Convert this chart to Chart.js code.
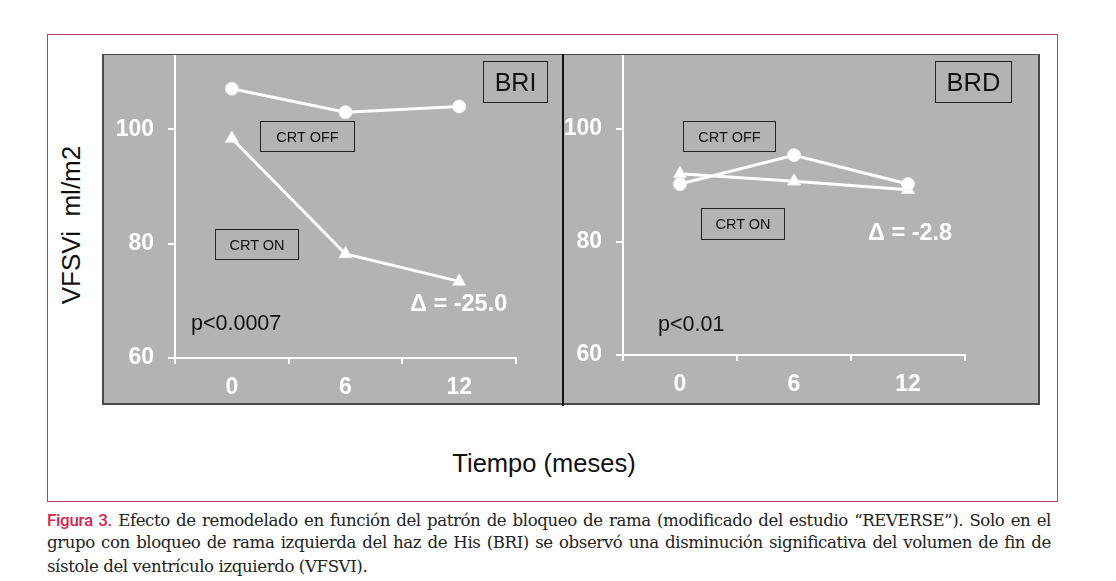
<!DOCTYPE html>
<html>
<head>
<meta charset="utf-8">
<script src="https://cdn.jsdelivr.net/npm/chart.js"></script>
<style>
  body { margin: 0; background: #fff; }
  #page { position: relative; width: 1116px; height: 581px; overflow: hidden; font-family: "Liberation Sans", Arial, sans-serif; }
  .abs { position: absolute; }
  #frame { left: 47px; top: 34px; width: 1009px; height: 466px; border: 1.5px solid #b8406a; }
  #panel { left: 102px; top: 54px; width: 934px; height: 348px; background: #b3b3b3; border: 1px solid #4a4a4a; border-left-width: 2px; border-bottom-width: 2px; border-right-width: 2px; }
  #divider { left: 562px; top: 54px; width: 2px; height: 352px; background: #111; }
  .box { position: absolute; border: 1.5px solid #222; display: flex; align-items: center; justify-content: center; color: #111; box-sizing: border-box; }
  .txt { position: absolute; white-space: nowrap; }
  .white { color: #fff; font-weight: bold; }
  .cap { position: absolute; left: 47px; width: 1004px; font-family: "DejaVu Serif", serif; font-size: 16.6px; letter-spacing: -0.4px; color: #222; white-space: nowrap; line-height: 22px; }
  .just { text-align: justify; text-align-last: justify; }
  .fig { font-family: Roboto, "Noto Sans", sans-serif; font-weight: 500; font-size: 17px; letter-spacing: -0.3px; color: #d2284e; }
</style>
</head>
<body>
<div id="page">
  <div id="frame" class="abs"></div>
  <div id="panel" class="abs"></div>
  <canvas id="chartBri" class="abs" style="left:103px; top:55px;" width="460" height="350"></canvas>
  <canvas id="chartBrd" class="abs" style="left:564px; top:55px;" width="474" height="350"></canvas>
  <div id="divider" class="abs"></div>

  <div class="box" style="left:483px; top:61px; width:65px; height:42px; font-size:25px;">BRI</div>
  <div class="box" style="left:935px; top:61px; width:77px; height:42px; font-size:25.5px;">BRD</div>
  <div class="box" style="left:260px; top:121px; width:95px; height:31px; font-size:14.5px;">CRT OFF</div>
  <div class="box" style="left:215px; top:229px; width:84px; height:31px; font-size:14.5px;">CRT ON</div>
  <div class="box" style="left:683px; top:121px; width:93px; height:31px; font-size:14.5px;">CRT OFF</div>
  <div class="box" style="left:701px; top:208px; width:84px; height:32px; font-size:14.5px;">CRT ON</div>

  <div class="txt" style="left:191px; top:310px; line-height:26px; font-size:21.5px; color:#111;">p&lt;0.0007</div>
  <div class="txt" style="left:658px; top:311px; line-height:26px; font-size:21.5px; color:#111;">p&lt;0.01</div>
  <div class="txt white" style="left:410px; top:290px; line-height:26px; font-size:23.5px;">&Delta; = -25.0</div>
  <div class="txt white" style="left:868px; top:219px; line-height:26px; font-size:23.5px;">&Delta; = -2.8</div>

  <div class="txt" style="left:71px; top:225px; font-size:26px; line-height:30px; color:#111; transform: translate(-50%, -50%) rotate(-90deg);">VFSVi&nbsp; ml/m2</div>
  <div class="txt" style="left:544px; top:463px; font-size:25.5px; line-height:30px; color:#111; transform: translate(-50%, -50%);">Tiempo (meses)</div>

  <div class="cap just" style="top:509px;"><span class="fig">Figura 3.</span> Efecto de remodelado en función del patrón de bloqueo de rama (modificado del estudio “REVERSE”). Solo en el</div>
  <div class="cap just" style="top:532px;">grupo con bloqueo de rama izquierda del haz de His (BRI) se observó una disminución significativa del volumen de fin de</div>
  <div class="cap" style="top:556px;">sístole del ventrículo izquierdo (VFSVI).</div>
</div>

<script>
// months on the x axis
const months = ['0', '6', '12'];
// VFSVi (ml/m2), left bundle branch block (BRI)
const briOff = [107.1, 103.0, 104.0];
const briOn = [98.4, 78.2, 73.4];
// VFSVi (ml/m2), right bundle branch block (BRD)
const brdOff = [90.2, 95.3, 90.2];
const brdOn = [92.0, 90.7, 89.2];
// y tick labels
const yTicks = [60, 80, 100];

const tickFont = { family: '"Liberation Sans", Arial, sans-serif', size: 23, weight: 'bold' };

function makeChart(id, offData, onData, dims) {
  const ctx = document.getElementById(id);
  return new Chart(ctx, {
    type: 'line',
    data: {
      labels: months,
      datasets: [
        {
          label: 'CRT OFF',
          data: offData,
          borderColor: '#fff',
          backgroundColor: '#fff',
          borderWidth: 3,
          pointStyle: 'circle',
          pointRadius: 6.5,
          pointBorderWidth: 1,
          pointBorderColor: '#eee'
        },
        {
          label: 'CRT ON',
          data: onData,
          borderColor: '#fff',
          backgroundColor: '#fff',
          borderWidth: 3,
          pointStyle: 'triangle',
          pointRadius: 7.5,
          pointBorderWidth: 1,
          pointBorderColor: '#eee'
        }
      ]
    },
    options: {
      responsive: false,
      animation: false,
      layout: { autoPadding: false, padding: { left: 0, right: dims.right, top: 0, bottom: 0 } },
      plugins: { legend: { display: false }, tooltip: { enabled: false } },
      scales: {
        x: {
          offset: true,
          grid: { offset: true, drawOnChartArea: false, color: '#fff', lineWidth: 2, tickLength: 6 },
          border: { color: '#fff', width: 2 },
          ticks: { color: '#fff', font: tickFont, padding: 10 },
          afterFit: s => { s.height = dims.xh; s.paddingLeft = 0; s.paddingRight = 0; }
        },
        y: {
          min: 60,
          max: 113,
          afterBuildTicks: s => { s.ticks = yTicks.map(v => ({ value: v })); },
          grid: { drawOnChartArea: false, color: '#fff', lineWidth: 2, tickLength: 7 },
          border: { color: '#fff', width: 2 },
          ticks: { color: '#fff', font: tickFont, padding: 14 },
          afterFit: s => { s.width = dims.yw; s.paddingTop = 0; s.paddingBottom = 0; }
        }
      }
    }
  });
}

makeChart('chartBri', briOff, briOn, { yw: 72, xh: 47, right: 47 });
makeChart('chartBrd', brdOff, brdOn, { yw: 59, xh: 50, right: 73 });
</script>
</body>
</html>
